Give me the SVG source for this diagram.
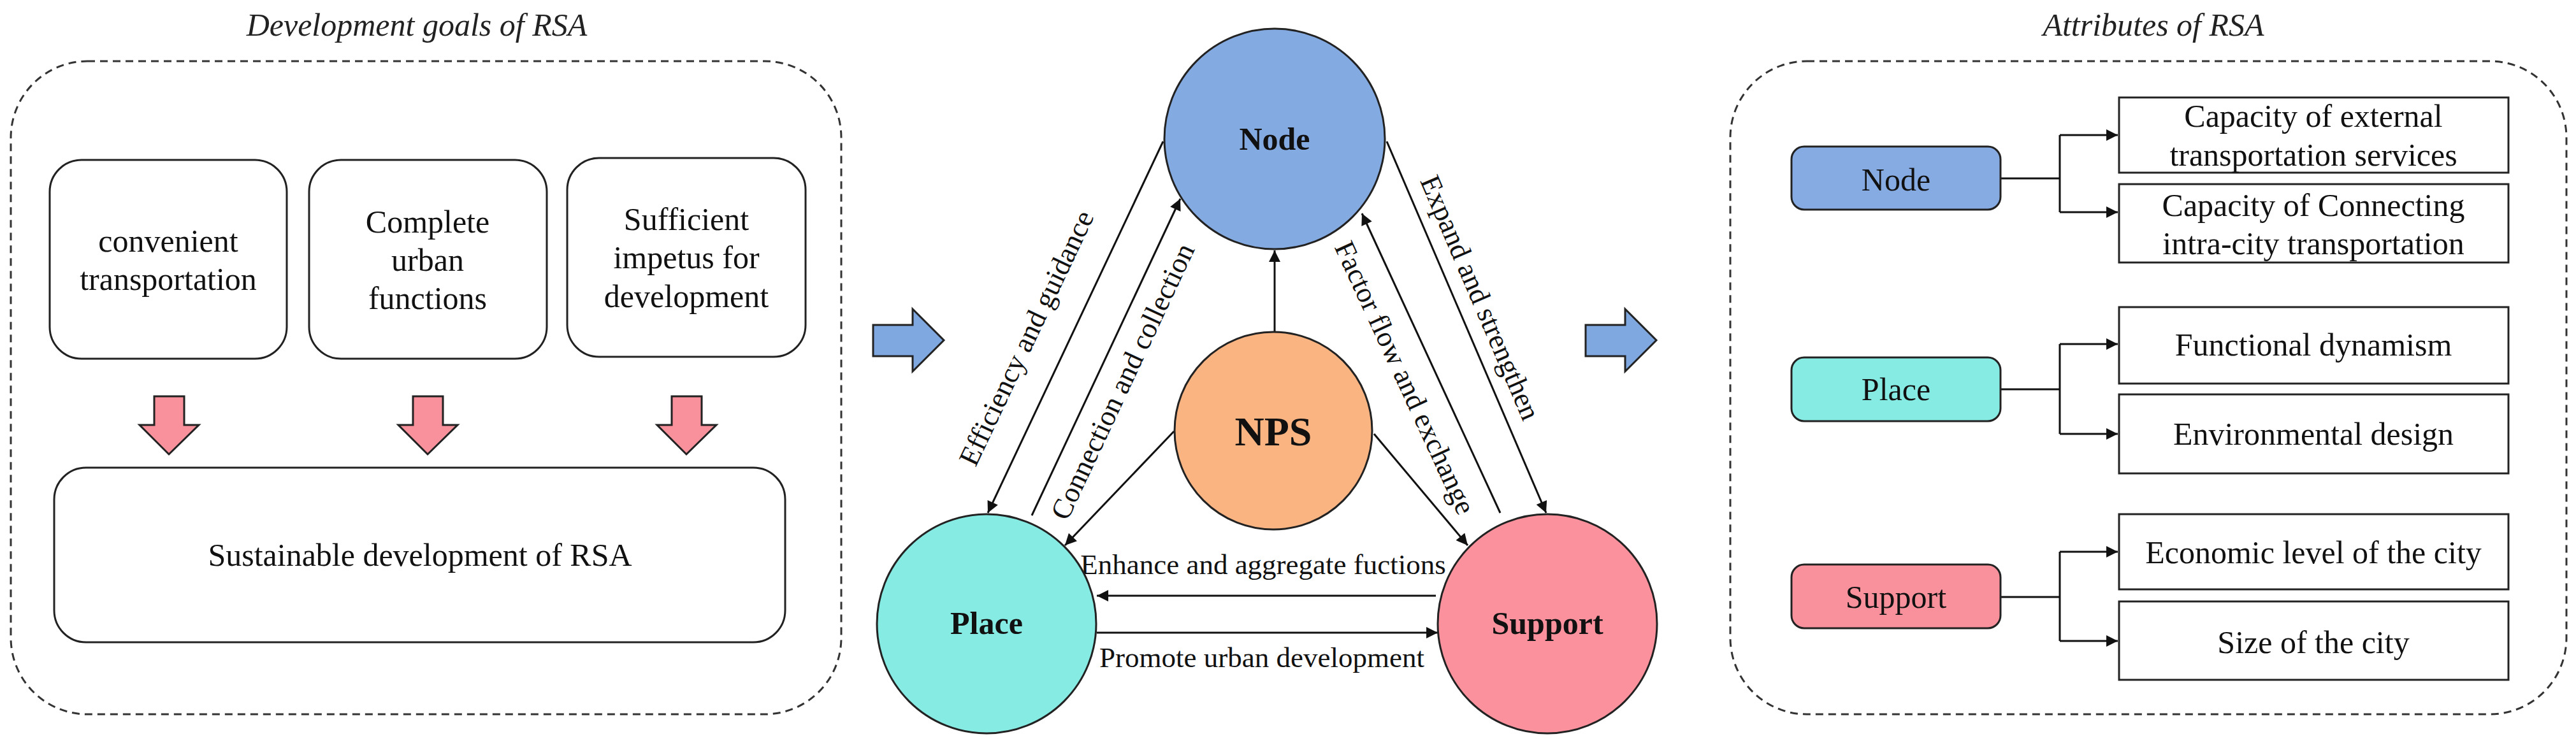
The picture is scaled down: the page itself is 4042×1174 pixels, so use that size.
<svg xmlns="http://www.w3.org/2000/svg" width="4042" height="1174" viewBox="0 0 4042 1174">
<defs>
<style>
text{font-family:"Liberation Serif","Times New Roman",serif;fill:#111;}
.t50{font-size:50px;text-anchor:middle;}
.lbl{font-size:45px;text-anchor:middle;}
.ttl{font-size:50px;font-style:italic;text-anchor:middle;fill:#222;}
.bold{font-weight:bold;font-size:50px;text-anchor:middle;}
.dash{fill:none;stroke:#333;stroke-width:3;stroke-dasharray:12 8;}
.box{fill:#fff;stroke:#222;stroke-width:3;}
.circ{stroke:#222;stroke-width:3;}
.con{fill:none;stroke:#111;stroke-width:3;}
.big{fill:#F8919C;stroke:#222;stroke-width:3;}
.barr{fill:#7FA8E0;stroke:#222;stroke-width:3;}
</style>
<marker id="ah" viewBox="0 0 10 10" refX="10" refY="5" markerWidth="7" markerHeight="6" markerUnits="strokeWidth" orient="auto">
<path d="M0,0 L10,5 L0,10 Z" fill="#111"/>
</marker>
</defs>
<rect width="4042" height="1174" fill="#fff"/>

<!-- Left panel -->
<g id="left-panel">
<text class="ttl" x="654" y="56">Development goals of RSA</text>
<rect class="dash" x="17" y="96" width="1303" height="1025" rx="120"/>
</g>
<g id="goal-convenient">
<rect class="box" x="78" y="251" width="372" height="312" rx="50"/>
<text class="t50" x="264" y="395">convenient</text>
<text class="t50" x="264" y="455">transportation</text>
</g>
<g id="goal-complete">
<rect class="box" x="485" y="251" width="373" height="312" rx="50"/>
<text class="t50" x="671" y="365">Complete</text>
<text class="t50" x="671" y="425">urban</text>
<text class="t50" x="671" y="485">functions</text>
</g>
<g id="goal-sufficient">
<rect class="box" x="890" y="248" width="374" height="312" rx="50"/>
<text class="t50" x="1077" y="361">Sufficient</text>
<text class="t50" x="1077" y="421">impetus for</text>
<text class="t50" x="1077" y="482">development</text>
</g>
<g id="pink-arrows">
<path class="big" d="M242,622 H289 V667 H312 L265,713 L219,667 H242 Z"/>
<path class="big" d="M648,622 H695 V667 H718 L671,713 L625,667 H648 Z"/>
<path class="big" d="M1054,622 H1101 V667 H1124 L1077,713 L1031,667 H1054 Z"/>
</g>
<g id="goal-sustainable">
<rect class="box" x="85" y="734" width="1147" height="274" rx="50"/>
<text class="t50" x="659" y="888">Sustainable development of RSA</text>
</g>

<!-- Blue block arrows -->
<g id="block-arrows">
<path class="barr" d="M1370,510 H1432 V485 L1481,534 L1432,583 V559 H1370 Z"/>
<path class="barr" d="M2488,510 H2550 V485 L2599,534 L2550,583 V559 H2488 Z"/>
</g>

<!-- Middle: connectors -->
<g id="connectors">
<line class="con" x1="1825" y1="222" x2="1550" y2="805" marker-end="url(#ah)"/>
<line class="con" x1="1619" y1="809" x2="1852" y2="312" marker-end="url(#ah)"/>
<line class="con" x1="2000" y1="521" x2="2000" y2="393" marker-end="url(#ah)"/>
<line class="con" x1="1842" y1="677" x2="1671" y2="856" marker-end="url(#ah)"/>
<line class="con" x1="2156" y1="681" x2="2303" y2="856" marker-end="url(#ah)"/>
<line class="con" x1="2354" y1="805" x2="2137" y2="335" marker-end="url(#ah)"/>
<line class="con" x1="2176" y1="222" x2="2426" y2="805" marker-end="url(#ah)"/>
<line class="con" x1="2253" y1="935" x2="1721" y2="935" marker-end="url(#ah)"/>
<line class="con" x1="1721" y1="993" x2="2256" y2="993" marker-end="url(#ah)"/>
<text class="lbl" transform="translate(1624,537) rotate(-64.7)">Efficiency and guidance</text>
<text class="lbl" transform="translate(1775,605) rotate(-64.9)">Connection and collection</text>
<text class="lbl" transform="translate(2191,599) rotate(65.2)">Factor flow and exchange</text>
<text class="lbl" transform="translate(2309,473) rotate(66.8)">Expand and strengthen</text>
<text class="lbl" x="1982" y="901">Enhance and aggregate fuctions</text>
<text class="lbl" x="1980" y="1047">Promote urban development</text>
</g>

<!-- Middle: nodes -->
<g id="node-node">
<circle class="circ" cx="2000" cy="218" r="173" fill="#84AAE2"/>
<text class="bold" x="2000" y="235">Node</text>
</g>
<g id="node-nps">
<circle class="circ" cx="1998" cy="676" r="155" fill="#FAB482"/>
<text class="bold" x="1998" y="699" style="font-size:64px">NPS</text>
</g>
<g id="node-place">
<circle class="circ" cx="1548" cy="979" r="172" fill="#86EBE3"/>
<text class="bold" x="1548" y="995">Place</text>
</g>
<g id="node-support">
<circle class="circ" cx="2428" cy="979" r="172" fill="#FB919D"/>
<text class="bold" x="2428" y="995">Support</text>
</g>

<!-- Right panel -->
<g id="right-panel">
<text class="ttl" x="3379" y="56">Attributes of RSA</text>
<rect class="dash" x="2715" y="96" width="1312" height="1025" rx="120"/>
</g>
<g id="attr-connectors">
<path class="con" d="M3139,280 H3232 M3232,212 V333"/>
<path class="con" d="M3232,212 H3323" marker-end="url(#ah)"/>
<path class="con" d="M3232,333 H3323" marker-end="url(#ah)"/>
<path class="con" d="M3139,611 H3232 M3232,540 V681"/>
<path class="con" d="M3232,540 H3323" marker-end="url(#ah)"/>
<path class="con" d="M3232,681 H3323" marker-end="url(#ah)"/>
<path class="con" d="M3139,937 H3232 M3232,866 V1006"/>
<path class="con" d="M3232,866 H3323" marker-end="url(#ah)"/>
<path class="con" d="M3232,1006 H3323" marker-end="url(#ah)"/>
</g>
<g id="attr-node">
<rect x="2811" y="230" width="328" height="99" rx="20" fill="#86ABE3" stroke="#222" stroke-width="3"/>
<text class="t50" x="2975" y="299">Node</text>
</g>
<g id="attr-place">
<rect x="2811" y="561" width="328" height="100" rx="20" fill="#86EBE3" stroke="#222" stroke-width="3"/>
<text class="t50" x="2975" y="628">Place</text>
</g>
<g id="attr-support">
<rect x="2811" y="886" width="328" height="100" rx="20" fill="#F8919C" stroke="#222" stroke-width="3"/>
<text class="t50" x="2975" y="954">Support</text>
</g>
<g id="attr-ext">
<rect class="box" x="3325" y="153" width="611" height="118"/>
<text class="t50" x="3630" y="199">Capacity of external</text>
<text class="t50" x="3630" y="260">transportation services</text>
</g>
<g id="attr-intra">
<rect class="box" x="3325" y="289" width="611" height="123"/>
<text class="t50" x="3630" y="339">Capacity of Connecting</text>
<text class="t50" x="3630" y="399">intra-city transportation</text>
</g>
<g id="attr-func">
<rect class="box" x="3325" y="482" width="611" height="120"/>
<text class="t50" x="3630" y="558">Functional dynamism</text>
</g>
<g id="attr-env">
<rect class="box" x="3325" y="619" width="611" height="124"/>
<text class="t50" x="3630" y="698">Environmental design</text>
</g>
<g id="attr-econ">
<rect class="box" x="3325" y="807" width="611" height="118"/>
<text class="t50" x="3630" y="884">Economic level of the city</text>
</g>
<g id="attr-size">
<rect class="box" x="3325" y="944" width="611" height="123"/>
<text class="t50" x="3630" y="1025">Size of the city</text>
</g>
</svg>
